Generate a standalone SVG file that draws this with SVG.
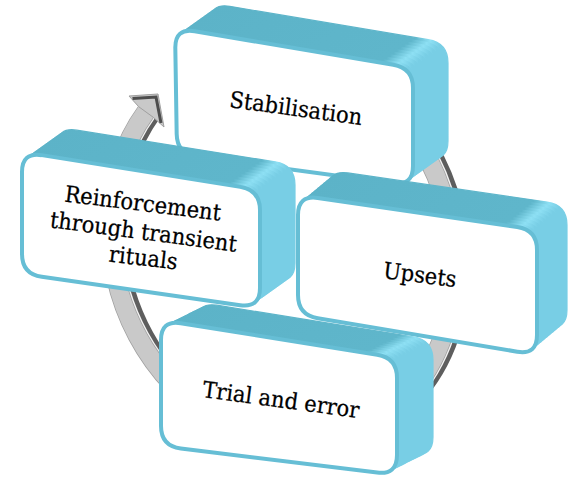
<svg xmlns="http://www.w3.org/2000/svg" xmlns:xlink="http://www.w3.org/1999/xlink" width="568" height="478" viewBox="0 0 568 478">
<style>
  .ext { fill: url(#extGrad); stroke: url(#extGrad); stroke-width: 1.2; }
  .face { fill: #ffffff; stroke: #66bed5; stroke-width: 4; }
  .lbl { font-family: "DejaVu Serif", "Liberation Serif", serif; font-size: 21px; fill: #000000; stroke: #000000; stroke-width: 0.25; text-anchor: middle; }
  .ring { fill: none; }
</style>
<defs>
  <linearGradient id="extGrad" x1="0" y1="0" x2="1" y2="0">
    <stop offset="0" stop-color="#5cb3c8"/>
    <stop offset="0.86" stop-color="#5fb6cb"/>
    <stop offset="0.925" stop-color="#8ee0f4"/>
    <stop offset="0.965" stop-color="#78cee5"/>
    <stop offset="1" stop-color="#78cee5"/>
  </linearGradient>
  <path id="fS" d="M194.73,31.32 L393.27,64.68 Q413,68 413,88 L413,166 Q413,186 393.18,183.31 L196.82,156.69 Q177,154 176.68,134 L175.32,48 Q175,28 194.73,31.32 Z"/>
  <path id="fR" d="M41.75,155.15 L240.25,186.85 Q260,190 260,210 L260,288 Q260,308 240.2,305.17 L41.8,276.83 Q22,274 22,254 L22,172 Q22,152 41.75,155.15 Z"/>
  <path id="fU" d="M317.79,197.9 L517.21,227.1 Q537,230 537,250 L537,335 Q537,355 517.27,351.7 L317.73,318.3 Q298,315 298,295 L298,215 Q298,195 317.79,197.9 Z"/>
  <path id="fT" d="M180.75,323.18 L377.25,354.82 Q397,358 397,378 L397,455 Q397,475 377.15,472.56 L180.85,448.44 Q161,446 161,426 L161,340 Q161,320 180.75,323.18 Z"/>
  <path id="ringPath" d="M201.1,64 A172,200 -18 0 1 223.2,54.79 A165,200 -18 1 1 346.8,435.21 A172,200 -18 0 1 145.9,111.9"/>
</defs>

<g id="connectors">
  <g id="cycle-arrow" class="ring">
    <use href="#ringPath" stroke="#5e5e5e" stroke-width="22" transform="translate(5,0)"/>
    <use href="#ringPath" stroke="#f2f2f2" stroke-width="20" transform="translate(1.2,0)"/>
    <use href="#ringPath" stroke="#a0a0a0" stroke-width="19.5"/>
    <use href="#ringPath" stroke="#c9c9c9" stroke-width="18"/>
    <polygon points="158,94 129,96 138.7,106.7 153.3,117.3 164,127" fill="#c9c9c9" stroke="#a0a0a0" stroke-width="1"/>
    <polyline points="132.5,98.5 156,97 161,123" fill="none" stroke="#4d4d4d" stroke-width="3"/>
  </g>
</g>

<g id="node-stabilisation">
  <g class="ext">
    <use href="#fS" transform="translate(35,-25)"/>
    <use href="#fS" transform="translate(31.5,-22.5)"/>
    <use href="#fS" transform="translate(28,-20)"/>
    <use href="#fS" transform="translate(24.5,-17.5)"/>
    <use href="#fS" transform="translate(21,-15)"/>
    <use href="#fS" transform="translate(17.5,-12.5)"/>
    <use href="#fS" transform="translate(14,-10)"/>
    <use href="#fS" transform="translate(10.5,-7.5)"/>
    <use href="#fS" transform="translate(7,-5)"/>
    <use href="#fS" transform="translate(3.5,-2.5)"/>
  </g>
  <use href="#fS" class="face"/>
  <text class="lbl" transform="translate(295 116) rotate(7.7) scale(1 1.08)">Stabilisation</text>
</g>

<g id="node-upsets">
  <g class="ext">
    <use href="#fU" transform="translate(30,-25)"/>
    <use href="#fU" transform="translate(27,-22.5)"/>
    <use href="#fU" transform="translate(24,-20)"/>
    <use href="#fU" transform="translate(21,-17.5)"/>
    <use href="#fU" transform="translate(18,-15)"/>
    <use href="#fU" transform="translate(15,-12.5)"/>
    <use href="#fU" transform="translate(12,-10)"/>
    <use href="#fU" transform="translate(9,-7.5)"/>
    <use href="#fU" transform="translate(6,-5)"/>
    <use href="#fU" transform="translate(3,-2.5)"/>
  </g>
  <use href="#fU" class="face"/>
  <text class="lbl" transform="translate(419 282.5) rotate(7.2) scale(1 1.08)">Upsets</text>
</g>

<g id="node-reinforcement">
  <g class="ext">
    <use href="#fR" transform="translate(35,-25)"/>
    <use href="#fR" transform="translate(31.5,-22.5)"/>
    <use href="#fR" transform="translate(28,-20)"/>
    <use href="#fR" transform="translate(24.5,-17.5)"/>
    <use href="#fR" transform="translate(21,-15)"/>
    <use href="#fR" transform="translate(17.5,-12.5)"/>
    <use href="#fR" transform="translate(14,-10)"/>
    <use href="#fR" transform="translate(10.5,-7.5)"/>
    <use href="#fR" transform="translate(7,-5)"/>
    <use href="#fR" transform="translate(3.5,-2.5)"/>
  </g>
  <use href="#fR" class="face"/>
  <text class="lbl" transform="translate(142 211) rotate(7) scale(1 1.08)">Reinforcement</text>
  <text class="lbl" transform="translate(142.5 239.5) rotate(7.5) scale(1 1.08)">through transient</text>
  <text class="lbl" transform="translate(142.5 265.5) rotate(6.5) scale(1 1.08)">rituals</text>
</g>

<g id="node-trial">
  <g class="ext">
    <use href="#fT" transform="translate(36,-18)"/>
    <use href="#fT" transform="translate(32.4,-16.2)"/>
    <use href="#fT" transform="translate(28.8,-14.4)"/>
    <use href="#fT" transform="translate(25.2,-12.6)"/>
    <use href="#fT" transform="translate(21.6,-10.8)"/>
    <use href="#fT" transform="translate(18,-9)"/>
    <use href="#fT" transform="translate(14.4,-7.2)"/>
    <use href="#fT" transform="translate(10.8,-5.4)"/>
    <use href="#fT" transform="translate(7.2,-3.6)"/>
    <use href="#fT" transform="translate(3.6,-1.8)"/>
  </g>
  <use href="#fT" class="face"/>
  <text class="lbl" transform="translate(280 407.5) rotate(7.7) scale(1 1.08)">Trial and error</text>
</g>
</svg>
